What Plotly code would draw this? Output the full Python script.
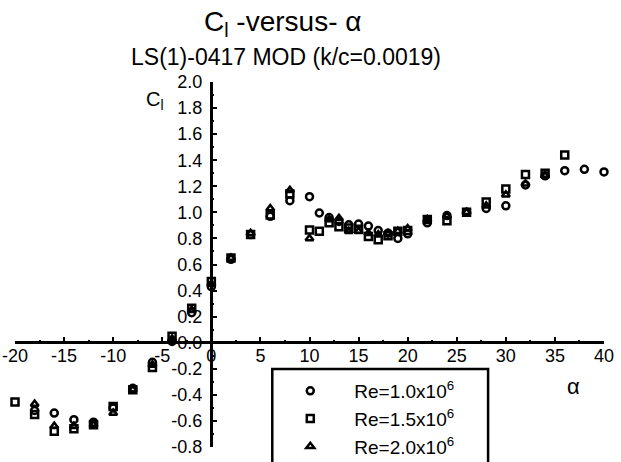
import plotly.graph_objects as go

# ---- data ----
alpha_re10 = [-18, -16, -14, -12, -10, -8, -6, -4, -2, 0, 2, 4, 6, 8, 10, 11, 12, 13, 14, 15,
              16, 17, 18, 19, 20, 22, 24, 26, 28, 30, 32, 34, 36, 38, 40]
cl_re10 = [-0.52, -0.54, -0.59, -0.61, -0.50, -0.35, -0.15, 0.01, 0.23, 0.43, 0.64, 0.83, 0.97,
           1.09, 1.12, 0.995, 0.96, 0.93, 0.905, 0.91, 0.895, 0.86, 0.84, 0.80, 0.835, 0.92,
           0.975, 1.00, 1.03, 1.05, 1.21, 1.28, 1.32, 1.33, 1.31]

alpha_re15 = [-20, -18, -16, -14, -12, -10, -8, -6, -4, -2, 0, 2, 4, 6, 8, 10, 11, 12, 13, 14,
              15, 16, 17, 18, 19, 20, 22, 24, 26, 28, 30, 32, 34, 36]
cl_re15 = [-0.455, -0.55, -0.68, -0.66, -0.63, -0.49, -0.36, -0.19, 0.05, 0.265, 0.47, 0.65,
           0.83, 0.98, 1.14, 0.865, 0.855, 0.92, 0.89, 0.88, 0.87, 0.815, 0.79, 0.82, 0.855,
           0.86, 0.945, 0.935, 1.00, 1.08, 1.18, 1.29, 1.30, 1.44]

alpha_re20 = [-18, -16, -14, -12, -10, -8, -6, -4, -2, 0, 2, 4, 6, 8, 10, 12, 13, 14, 15, 16,
              17, 18, 19, 20, 22, 24, 26, 28, 30, 32, 34]
cl_re20 = [-0.47, -0.64, -0.64, -0.63, -0.54, -0.36, -0.17, 0.03, 0.25, 0.45, 0.65, 0.84, 1.03,
           1.17, 0.80, 0.945, 0.955, 0.855, 0.855, 0.84, 0.83, 0.84, 0.855, 0.875, 0.945, 0.97,
           1.00, 1.05, 1.135, 1.22, 1.28]

series_names = ["Re=1.0x10<sup>6</sup>", "Re=1.5x10<sup>6</sup>", "Re=2.0x10<sup>6</sup>"]
x_ticks = [-20, -15, -10, -5, 0, 5, 10, 15, 20, 25, 30, 35, 40]
y_ticks = [-0.8, -0.6, -0.4, -0.2, 0.0, 0.2, 0.4, 0.6, 0.8, 1.0, 1.2, 1.4, 1.6, 1.8, 2.0]

FONT = "Liberation Sans, Arial, sans-serif"
W, H = 621, 462
ML, MR, MT, MB = 14.5, 17, 82, 15
X_RANGE = [-20, 40]
Y_RANGE = [-0.8, 2.0]

def px_to_paper(px, py):
    pw = W - ML - MR
    ph = H - MT - MB
    return (px - ML) / pw, (H - MB - py) / ph

fig = go.Figure()
for xs, ys, name, sym in [(alpha_re10, cl_re10, series_names[0], "circle-open"),
                          (alpha_re15, cl_re15, series_names[1], "square-open"),
                          (alpha_re20, cl_re20, series_names[2], "triangle-up-open")]:
    fig.add_trace(go.Scatter(
        x=xs, y=ys, mode="markers", name=name,
        marker=dict(symbol=sym, size=7, color="black", line=dict(width=2.5, color="black")),
        cliponaxis=False,
    ))

# fractions of the plot area where the axes cross (alpha=0, Cl=0)
x_pos = (0 - Y_RANGE[0]) / (Y_RANGE[1] - Y_RANGE[0])
y_pos = (0 - X_RANGE[0]) / (X_RANGE[1] - X_RANGE[0])

hidden = dict(visible=False, showgrid=False, zeroline=False)
fig.update_layout(
    width=W, height=H,
    template="none",
    paper_bgcolor="white", plot_bgcolor="rgba(0,0,0,0)",
    margin=dict(l=ML, r=MR, t=MT, b=MB, pad=0, autoexpand=False),
    font=dict(family=FONT, color="black", size=18),
    # data axes: only their zero lines are shown (they form the crossing axis lines)
    xaxis=dict(range=X_RANGE, domain=[0, 1], anchor="y", showgrid=False, showline=False,
               showticklabels=False, ticks="", zeroline=True, zerolinewidth=3,
               zerolinecolor="black", automargin=False),
    yaxis=dict(range=Y_RANGE, domain=[0, 1], anchor="x", showgrid=False, showline=False,
               showticklabels=False, ticks="", zeroline=True, zerolinewidth=3,
               zerolinecolor="black", automargin=False),
    # tick-bearing x axis sitting on Cl = 0
    xaxis2=dict(range=X_RANGE, domain=[0, 1], anchor="y2", side="bottom",
                showgrid=False, zeroline=False, showline=False,
                ticks="inside", ticklen=6, tickwidth=2, tickcolor="black",
                tickvals=x_ticks, ticktext=[str(v) for v in x_ticks],
                minor=dict(ticks="inside", dtick=2.5, tick0=0, ticklen=3, tickwidth=2,
                           tickcolor="black"),
                tickfont=dict(size=18), automargin=False),
    yaxis2=dict(range=[0, 1], domain=[x_pos, 1], anchor="x2", **hidden),
    # tick-bearing y axis sitting on alpha = 0
    yaxis3=dict(range=Y_RANGE, domain=[0, 1], anchor="x3", side="left",
                showgrid=False, zeroline=False, showline=False,
                ticks="inside", ticklen=6, tickwidth=2, tickcolor="black",
                tickvals=y_ticks, ticktext=[f"{v:.1f}" for v in y_ticks],
                minor=dict(ticks="inside", dtick=0.1, tick0=0, ticklen=3, tickwidth=2,
                           tickcolor="black"),
                tickfont=dict(size=18), automargin=False, ticklabelstandoff=8),
    xaxis3=dict(range=[0, 1], domain=[y_pos, 1], anchor="y3", **hidden),
    showlegend=True,
)
# empty helper traces so that the tick-bearing subplots are created
fig.add_trace(go.Scatter(x=[], y=[], xaxis="x2", yaxis="y2", showlegend=False, hoverinfo="skip"))
fig.add_trace(go.Scatter(x=[], y=[], xaxis="x3", yaxis="y3", showlegend=False, hoverinfo="skip"))

lx, ly = px_to_paper(266, 372)
fig.update_layout(legend=dict(x=lx, y=ly, xanchor="left", yanchor="top",
                              bgcolor="rgba(0,0,0,0)", borderwidth=0,
                              font=dict(size=19, family=FONT), itemwidth=78,
                              tracegroupgap=0))

bx0, by0 = px_to_paper(272, 369)
bx1, by1 = px_to_paper(488, 480)
fig.add_shape(type="rect", xref="paper", yref="paper", x0=bx0, x1=bx1, y0=by1, y1=by0,
              line=dict(color="black", width=2.5), fillcolor="rgba(0,0,0,0)", layer="below")

tx, ty = px_to_paper(282, 24)
sx, sy = px_to_paper(286, 57)
cx, cy = px_to_paper(155, 100)
ax_, ay_ = px_to_paper(573, 386)
fig.add_annotation(text="C<sub>l</sub> -versus- α", x=tx, y=ty, xref="paper", yref="paper",
                   showarrow=False, font=dict(size=28, family=FONT), xanchor="center", yanchor="middle")
fig.add_annotation(text="LS(1)-0417 MOD (k/c=0.0019)", x=sx, y=sy, xref="paper", yref="paper",
                   showarrow=False, font=dict(size=23, family=FONT), xanchor="center", yanchor="middle")
fig.add_annotation(text="C<sub>l</sub>", x=cx, y=cy, xref="paper", yref="paper",
                   showarrow=False, font=dict(size=20, family=FONT), xanchor="center", yanchor="middle")
fig.add_annotation(text="α", x=ax_, y=ay_, xref="paper", yref="paper",
                   showarrow=False, font=dict(size=22, family=FONT), xanchor="center", yanchor="middle")

fig.write_html("out.html")
